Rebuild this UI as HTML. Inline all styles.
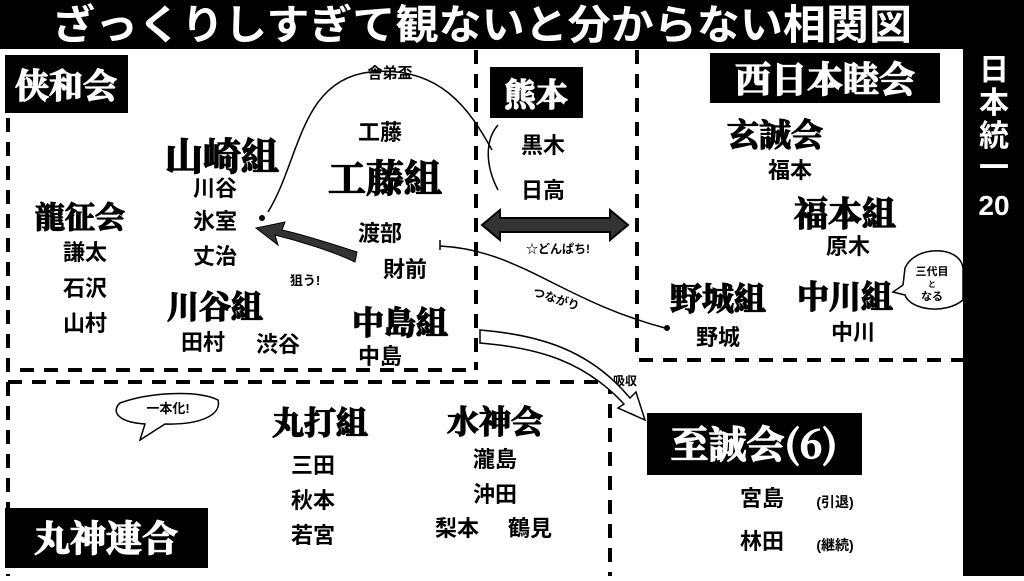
<!DOCTYPE html>
<html><head><meta charset="utf-8"><style>
body{margin:0;width:1024px;height:576px;overflow:hidden;background:#fff}
svg text{font-family:"Liberation Sans","Noto Sans CJK JP",sans-serif;font-weight:bold;text-anchor:middle}
.s{font-family:"Noto Serif CJK SC","Liberation Serif",serif !important;stroke-width:1.3px}
.b{stroke:#000}
.w{stroke:#fff}
</style></head><body>
<svg width="1024" height="576" viewBox="0 0 1024 576">
<rect x="0" y="0" width="1024" height="49" fill="#000"/>
<text x="482" y="39" font-size="41" fill="#fff" textLength="860" lengthAdjust="spacingAndGlyphs">ざっくりしすぎて観ないと分からない相関図</text>
<rect x="963" y="48" width="61" height="528" fill="#000"/>
<g fill="#fff" font-size="30"><text x="994" y="80">日</text><text x="994" y="113">本</text><text x="994" y="146">統</text><text x="994" y="178">一</text><text x="994" y="215" font-size="28">20</text></g>
<g stroke="#000" stroke-width="4" stroke-dasharray="14,10" fill="none">
<path d="M8 118 V370 H475"/><path d="M476 50 V370"/><path d="M637 50 V360 H963"/>
<path d="M8 382 H610 V576"/><path d="M8 382 V576"/>
</g>
<rect x="5" y="55" width="123" height="58" fill="#000"/><text x="66" y="98" font-size="34" fill="#fff" class="s w">侠和会</text>
<rect x="490" y="67" width="93" height="51" fill="#000"/><text x="536" y="106" font-size="32" fill="#fff" class="s w">熊本</text>
<rect x="710" y="53" width="230" height="50" fill="#000"/><text x="825" y="92" font-size="36" fill="#fff" class="s w">西日本睦会</text>
<rect x="647" y="413" width="215" height="62" fill="#000"/><text x="754" y="458" font-size="38" fill="#fff" class="s w">至誠会(6)</text>
<rect x="5" y="508" width="203" height="60" fill="#000"/><text x="106" y="551" font-size="36" fill="#fff" class="s w">丸神連合</text>
<g fill="#000">
<text x="80" y="228" font-size="30" class="s b">龍征会</text>
<text x="85" y="260" font-size="22">謙太</text><text x="85" y="296" font-size="22">石沢</text><text x="85" y="331" font-size="22">山村</text>
<text x="222" y="170" font-size="38" class="s b">山崎組</text>
<text x="215" y="196" font-size="22">川谷</text><text x="215" y="229" font-size="22">氷室</text><text x="215" y="264" font-size="22">丈治</text>
<text x="215" y="318" font-size="32" class="s b">川谷組</text>
<text x="203" y="350" font-size="22">田村</text><text x="278" y="352" font-size="22">渋谷</text>
<text x="380" y="140" font-size="22">工藤</text>
<text x="385" y="192" font-size="38" class="s b">工藤組</text>
<text x="380" y="241" font-size="22">渡部</text><text x="405" y="277" font-size="22">財前</text>
<text x="400" y="334" font-size="32" class="s b">中島組</text><text x="380" y="364" font-size="22">中島</text>
<text x="543" y="153" font-size="22">黒木</text><text x="543" y="198" font-size="22">日高</text>
<text x="775" y="146" font-size="32" class="s b">玄誠会</text><text x="790" y="178" font-size="22">福本</text>
<text x="845" y="226" font-size="34" class="s b">福本組</text><text x="848" y="254" font-size="22">原木</text>
<text x="718" y="310" font-size="32" class="s b">野城組</text><text x="718" y="345" font-size="22">野城</text>
<text x="845" y="308" font-size="32" class="s b">中川組</text><text x="853" y="340" font-size="22">中川</text>
<text x="320" y="434" font-size="32" class="s b">丸打組</text>
<text x="313" y="473" font-size="22">三田</text><text x="313" y="508" font-size="22">秋本</text><text x="313" y="543" font-size="22">若宮</text>
<text x="495" y="433" font-size="32" class="s b">水神会</text>
<text x="495" y="467" font-size="22">瀧島</text><text x="495" y="502" font-size="22">沖田</text>
<text x="457" y="536" font-size="22">梨本</text><text x="530" y="536" font-size="22">鶴見</text>
<text x="762" y="506" font-size="22">宮島</text><text x="835" y="507" font-size="14" font-weight="normal">(引退)</text>
<text x="762" y="549" font-size="22">林田</text><text x="835" y="550" font-size="14" font-weight="normal">(継続)</text>
</g>
<g fill="none" stroke="#000" stroke-width="1.5">
<path d="M268 212 C300 160 300 80 370 72 C440 65 470 110 492 150"/>
<path d="M440 240 L440 250 M440 246 C520 250 560 300 665 328"/>
<path d="M498 125 C485 140 485 165 498 190"/>
</g>
<circle cx="262" cy="218" r="3" fill="#000"/><circle cx="667" cy="328" r="3" fill="#000"/>
<text x="390" y="78" font-size="15" font-weight="normal">舎弟盃</text>
<text x="305" y="285" font-size="13" font-weight="normal">狙う!</text>
<text x="555" y="303" font-size="12" font-weight="normal" transform="rotate(18 555 303)">つながり</text>
<text x="558" y="253" font-size="12" font-weight="normal">☆どんぱち!</text>
<text x="625" y="385" font-size="12" font-weight="normal">吸収</text>
<path d="M355 262 C330 250 295 240 275 235 L278 245 L256 228 L285 222 L282 230 C305 235 335 245 357 252 Z" fill="#333" stroke="#000"/>
<path d="M482 225 L500 210 L500 218 L610 218 L610 210 L628 225 L610 240 L610 232 L500 232 L500 240 Z" fill="#333" stroke="#000" stroke-width="2"/>
<path d="M480 330 C540 335 590 350 630 398 L636 392 L645 420 L618 408 L624 404 C585 362 540 348 480 343 Z" fill="#fff" stroke="#000" stroke-width="1.5"/>
<path d="M120 403 C150 392 200 390 218 400 C222 415 200 425 165 424 L140 440 L145 424 C115 422 112 410 120 403 Z" fill="#fff" stroke="#000" stroke-width="1.5"/>
<text x="168" y="413" font-size="13" font-weight="normal">一本化!</text>
<path d="M905 268 C915 245 960 245 963 268 L963 300 C945 315 910 310 905 295 L893 292 L903 285 Z" fill="#fff" stroke="#000" stroke-width="1.5"/>
<text x="932" y="275" font-size="11" font-weight="normal">三代目</text>
<text x="932" y="287" font-size="8" font-weight="normal">と</text>
<text x="932" y="300" font-size="11" font-weight="normal">なる</text>
</svg>
</body></html>
